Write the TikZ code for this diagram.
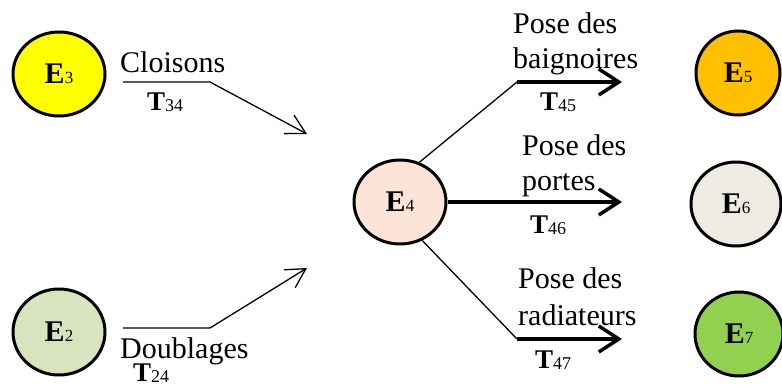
\documentclass[tikz,border=0pt]{standalone}
\usepackage{fontspec}
\setmainfont{Liberation Serif}
\usetikzlibrary{arrows.meta,shapes.geometric}
\definecolor{cE3}{HTML}{FFFF00}
\definecolor{cE2}{HTML}{D7E4BD}
\definecolor{cE4}{HTML}{FCE4D6}
\definecolor{cE5}{HTML}{FFC000}
\definecolor{cE6}{HTML}{EEECE1}
\definecolor{cE7}{HTML}{92D050}
% state label: bold E with a small index
\newcommand{\etat}[1]{\textbf{E}{\fontsize{17}{17}\selectfont #1}}
% task label: bold T with a small index
\newcommand{\tache}[1]{{\fontsize{27}{27}\selectfont\bfseries T}\raisebox{-1pt}{\fontsize{18}{18}\selectfont #1}}
\begin{document}
\begin{tikzpicture}[x=1pt,y=-1pt,
  state/.style={ellipse, draw, line width=3pt, minimum width=92pt,
    minimum height=84pt, inner sep=0pt, font=\fontsize{30}{30}\selectfont},
  txt/.style={inner sep=0pt, anchor=base west, font=\fontsize{30}{35}\selectfont},
  link/.style={line width=1.3pt},
  thinarrow/.style={line width=1.3pt, -{Straight Barb[length=19pt,width=21pt]}},
  thickarrow/.style={line width=3.5pt, -{Straight Barb[length=20pt,width=26pt]}},
  line join=miter]
\useasboundingbox (0,0) rectangle (782,388);

% states
\node[state, fill=cE3] (E3) at (59,74) {\etat{3}};
\node[state, fill=cE2, minimum height=86pt] (E2) at (59,332) {\etat{2}};
\node[state, fill=cE4] (E4) at (400,202) {\etat{4}};
\node[state, fill=cE5, minimum width=84pt] (E5) at (738,73) {\etat{5}};
\node[state, fill=cE6, minimum width=90pt] (E6) at (736,204) {\etat{6}};
\node[state, fill=cE7, minimum width=88pt] (E7) at (739,334) {\etat{7}};

% bend points of the connectors
\coordinate (a34) at (123,82);
\coordinate (b34) at (210,82);
\coordinate (c34) at (307,134);
\coordinate (a24) at (123,328);
\coordinate (b24) at (210,328);
\coordinate (c24) at (307,268);
\coordinate (b45) at (517,82);
\coordinate (c45) at (622,82);
\coordinate (c46) at (622,202);
\coordinate (b47) at (517,339);
\coordinate (c47) at (622,339);

% tasks into E4
\draw[thinarrow] (a34) -- (b34) -- (c34);
\draw[thinarrow] (a24) -- (b24) -- (c24);

% tasks out of E4
\draw[link] (E4.64) -- (b45);
\draw[thickarrow] (b45) -- (c45);
\draw[thickarrow] (E4.east) -- (c46);
\draw[link] (E4.-60) -- (b47);
\draw[thickarrow] (b47) -- (c47);

% labels
\node[txt] (l34) at (120,72) {Cloisons};
\node[txt] (t34) at (147,110) {\tache{34}};
\node[txt] (l24) at (120,358) {Doublages};
\node[txt] (t24) at (133,381) {\tache{24}};
\node[txt] (l45a) at (513,33) {Pose des};
\node[txt] (l45b) at (513,68) {baignoires};
\node[txt] (t45) at (540,110) {\tache{45}};
\node[txt] (l46a) at (522,155) {Pose des};
\node[txt] (l46b) at (522,190) {portes};
\node[txt] (t46) at (530,233) {\tache{46}};
\node[txt] (l47a) at (518,288) {Pose des};
\node[txt] (l47b) at (518,325) {radiateurs};
\node[txt] (t47) at (535,368) {\tache{47}};
\end{tikzpicture}
\end{document}
